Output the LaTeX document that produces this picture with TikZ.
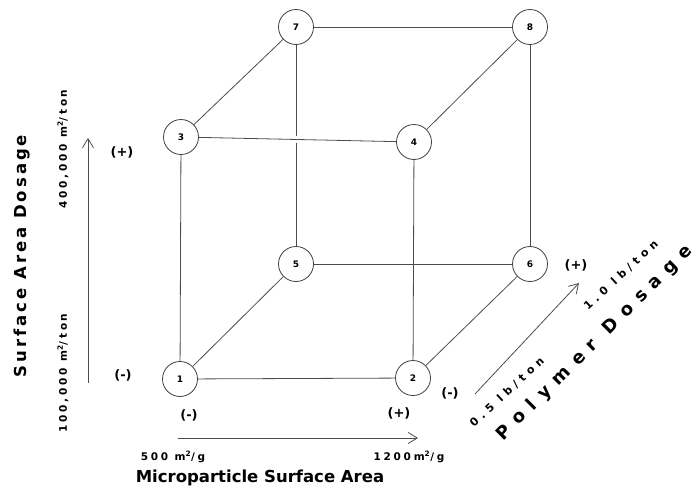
\documentclass[tikz,border=0pt]{standalone}
\usepackage{fontspec}
\setmainfont{DejaVu Sans}
\usetikzlibrary{arrows.meta}
\begin{document}
\begin{tikzpicture}[x=1pt, y=-1pt,
      % --- STYLES ---
      every node/.style={font=\bfseries},
      corner/.style={circle, draw=black!75, fill=white, line width=0.8pt, minimum size=35pt, inner sep=0pt, font=\bfseries\fontsize{9}{9}\selectfont},
      edge/.style={draw=black!70, line width=0.8pt},
      axis/.style={draw=black!70, line width=0.8pt, -{Straight Barb[length=9pt, width=11pt]}},
      title/.style={font=\bfseries\fontsize{16.5}{16.5}\selectfont},
      level/.style={font=\bfseries\fontsize{10.5}{10.5}\selectfont\addfontfeature{LetterSpace=26}},
      slant/.style={font=\bfseries\fontsize{11}{11}\selectfont\addfontfeature{LetterSpace=42}},
      sign/.style={font=\bfseries\fontsize{13}{13}\selectfont}
  ]
    \useasboundingbox (0,0) rectangle (699,493);
    %
    % 1. Corners of the cube
    \node[corner] (c1) at (180, 379) {1};
    \node[corner] (c2) at (413, 378) {2};
    \node[corner] (c3) at (181, 137) {3};
    \node[corner] (c4) at (414, 142) {4};
    \node[corner] (c5) at (296, 264) {5};
    \node[corner] (c6) at (530, 264) {6};
    \node[corner] (c7) at (296, 27) {7};
    \node[corner] (c8) at (530, 27) {8};
    %
    % 2. Edges
    \draw[edge] (c7) -- (c5);
    \draw[edge, preaction={draw=white, line width=7pt, shorten <=8pt, shorten >=8pt}] (c3) -- (c4);
    \draw[edge] (c1) -- (c2);
    \draw[edge] (c1) -- (c3);
    \draw[edge] (c1) -- (c5);
    \draw[edge] (c2) -- (c4);
    \draw[edge] (c2) -- (c6);
    \draw[edge] (c5) -- (c6);
    \draw[edge] (c3) -- (c7);
    \draw[edge] (c4) -- (c8);
    \draw[edge] (c6) -- (c8);
    \draw[edge] (c7) -- (c8);
    %
    % 3. Vertical axis
    \coordinate (ylo) at (88, 383);
    \coordinate (yhi) at (88, 138);
    \draw[axis] (ylo) -- (yhi);
    \node[title, rotate=90, font=\bfseries\fontsize{16.5}{16.5}\selectfont\addfontfeature{LetterSpace=18}] (ytitle) at (22, 256) {Surface Area Dosage};
    \node[level, rotate=90] (yhigh) at (63, 149) {400,000 m\textsuperscript{2}/ton};
    \node[level, rotate=90] (ylow) at (63, 373) {100,000 m\textsuperscript{2}/ton};
    \node[sign] (yplus) at (122, 152) {(+)};
    \node[sign] (yminus) at (123, 375) {(-)};
    %
    % 4. Horizontal axis
    \coordinate (xlo) at (178, 438);
    \coordinate (xhi) at (418, 438);
    \draw[axis] (xlo) -- (xhi);
    \node[title] (xtitle) at (260, 478) {Microparticle Surface Area};
    \node[level] (xlow) at (173, 457) {500 m\textsuperscript{2}/g};
    \node[level] (xhigh) at (409, 457) {1200m\textsuperscript{2}/g};
    \node[sign] (xminus) at (189, 415) {(-)};
    \node[sign] (xplus) at (399, 413) {(+)};
    %
    % 5. Depth axis
    \coordinate (zlo) at (475, 394);
    \coordinate (zhi) at (579, 283);
    \draw[axis] (zlo) -- (zhi);
    \node[title, rotate=45, font=\bfseries\fontsize{18}{18}\selectfont\addfontfeature{LetterSpace=48}] (ztitle) at (595, 343) {Polymer Dosage};
    \node[slant, rotate=43] (zlow) at (507, 392) {0.5 lb/ton};
    \node[slant, rotate=43] (zhigh) at (621, 275) {1.0 lb/ton};
    \node[sign] (zminus) at (450, 393) {(-)};
    \node[sign] (zplus) at (576, 265) {(+)};
  \end{tikzpicture}
\end{document}
